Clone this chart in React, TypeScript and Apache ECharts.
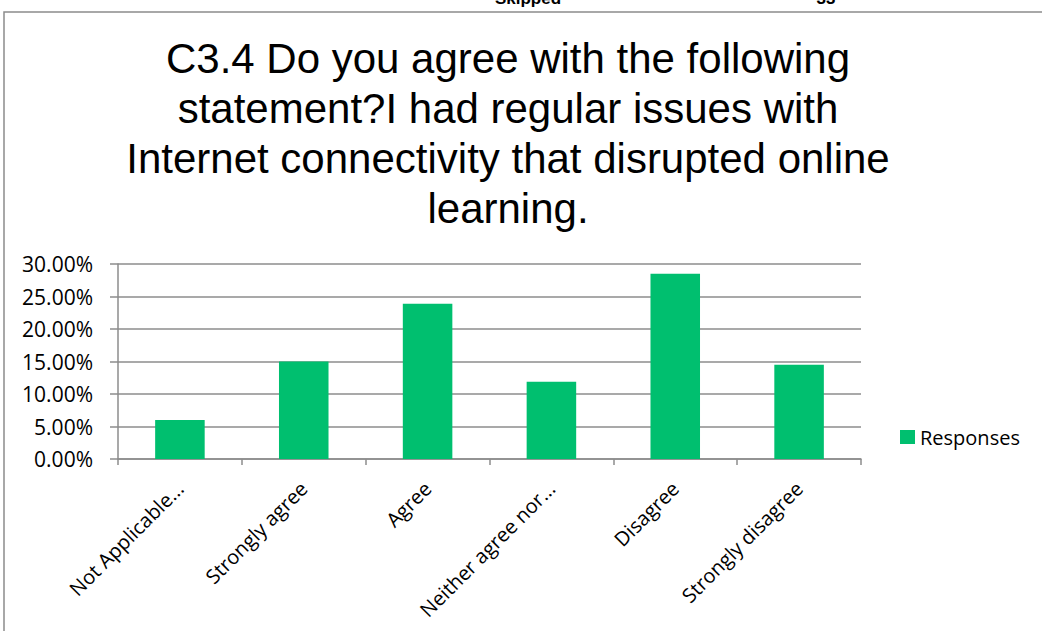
import React, { useEffect, useRef } from "react";
import * as echarts from "echarts";

const categories = [
  "Not Applicable...",
  "Strongly agree",
  "Agree",
  "Neither agree nor...",
  "Disagree",
  "Strongly disagree",
];
const responses = [6.0, 15.0, 23.9, 11.9, 28.5, 14.5];
const yTicks = { min: 0, max: 30, interval: 5 };
const titleLines = [
  "C3.4 Do you agree with the following",
  "statement?I had regular issues with",
  "Internet connectivity that disrupted online",
  "learning.",
];
const seriesName = "Responses";
const headerTexts = ["Skipped", "33"];

export default function App() {
  const ref = useRef<HTMLDivElement>(null);
  useEffect(() => {
    if (!ref.current) return;
    const chart = echarts.init(ref.current, undefined, { renderer: "svg" });
    const labelFont = "'Open Sans', sans-serif";
    const lineColor = "#8c8c8c";
    chart.setOption({
      animation: false,
      backgroundColor: "#ffffff",
      title: {
        text: titleLines.join("\n"),
        left: 508,
        textAlign: "center",
        top: 33,
        padding: 0,
        textStyle: {
          fontFamily: "'Liberation Sans', Arial, sans-serif",
          fontSize: 42,
          lineHeight: 50,
          fontWeight: "normal",
          color: "#000000",
        },
      },
      legend: {
        data: [seriesName],
        left: 900,
        top: 427,
        padding: 0,
        icon: "rect",
        itemWidth: 15,
        itemHeight: 14,
        textStyle: { fontFamily: labelFont, fontSize: 20, color: "#000000" },
      },
      grid: {
        left: 118,
        right: 181,
        top: 264,
        bottom: 172,
        outerBoundsMode: "none",
        containLabel: false,
      },
      xAxis: {
        type: "category",
        data: categories,
        axisLine: { show: true, lineStyle: { color: lineColor, width: 1.5 } },
        axisTick: { show: true, length: 6, lineStyle: { color: lineColor, width: 1.5 } },
        axisLabel: {
          interval: 0,
          rotate: 45,
          margin: 26,
          fontFamily: labelFont,
          fontSize: 20,
          color: "#000000",
        },
      },
      yAxis: {
        type: "value",
        min: yTicks.min,
        max: yTicks.max,
        interval: yTicks.interval,
        axisLine: { show: true, lineStyle: { color: lineColor, width: 1.5 } },
        axisTick: { show: true, length: 8, lineStyle: { color: lineColor, width: 1.5 } },
        splitLine: { show: true, lineStyle: { color: lineColor, width: 1.5 } },
        axisLabel: {
          margin: 25,
          fontFamily: labelFont,
          fontSize: 21,
          color: "#000000",
          formatter: (v: number) => v.toFixed(2) + "%",
        },
      },
      series: [
        {
          name: seriesName,
          type: "bar",
          data: responses,
          barWidth: "40%",
          itemStyle: { color: "#00BF6F" },
        },
      ],
      graphic: [
        {
          type: "rect",
          shape: { x: 4, y: 12, width: 1100, height: 700 },
          style: { fill: "none", stroke: lineColor, lineWidth: 1.5 },
          silent: true,
        },
        {
          type: "text",
          x: 528,
          y: 7,
          style: {
            text: headerTexts[0],
            textAlign: "center",
            textVerticalAlign: "bottom",
            font: "bold 17px 'Liberation Sans', Arial, sans-serif",
            fill: "#000000",
          },
        },
        {
          type: "text",
          x: 826,
          y: 7,
          style: {
            text: headerTexts[1],
            textAlign: "center",
            textVerticalAlign: "bottom",
            font: "bold 17px 'Liberation Sans', Arial, sans-serif",
            fill: "#000000",
          },
        },
      ],
    });
    return () => chart.dispose();
  }, []);
  return (
    <div
      ref={ref}
      style={{ position: "absolute", left: 0, top: 0, width: 1042, height: 631 }}
    />
  );
}
